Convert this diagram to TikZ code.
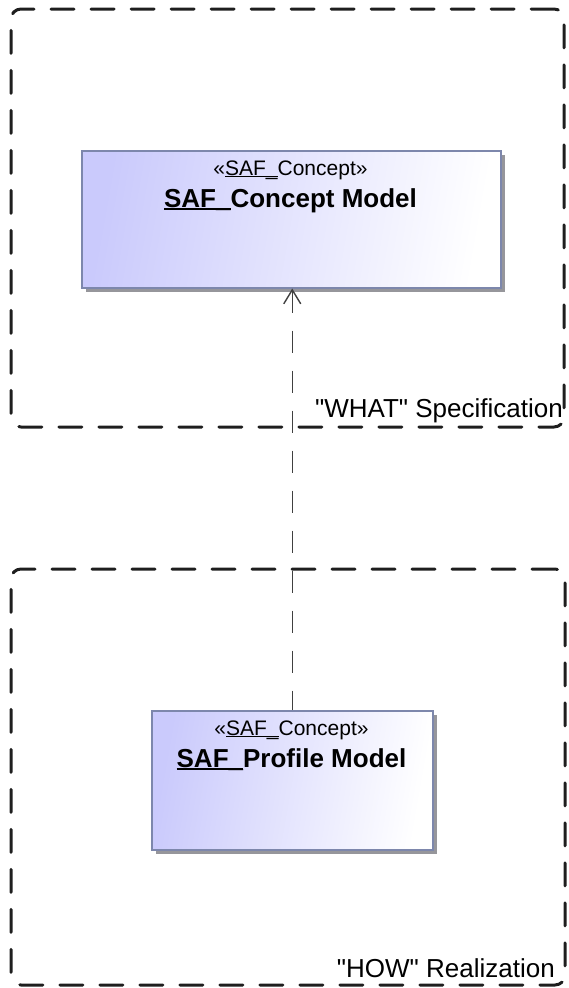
\documentclass[tikz,border=0pt]{standalone}
\usepackage{fontspec}
\setmainfont{Liberation Sans}
\usetikzlibrary{arrows.meta,shadows}

\definecolor{blockfill}{RGB}{202,202,252}
\definecolor{blockline}{RGB}{125,135,172}
\definecolor{blockshadow}{RGB}{150,150,155}
\definecolor{framecol}{RGB}{30,30,30}

% underline a piece of text with a thin rule just below the baseline
\newcommand\safuline[1]{\setbox0=\hbox{#1}\rlap{\rule[-0.1em]{\wd0}{0.055em}}\box0}

\begin{document}
\begin{tikzpicture}[x=1pt,y=-1pt,
  frame/.style={draw=framecol, line width=3pt, rounded corners=10pt,
    dash pattern=on 23pt off 17pt, line cap=round, inner sep=0pt},
  block/.style={draw=blockline, line width=1.5pt, left color=blockfill,
    right color=white, shading angle=80, inner sep=0pt,
    drop shadow={shadow xshift=4pt, shadow yshift=-4pt, fill=blockshadow, opacity=1}},
  stereo/.style={font=\fontsize{21}{24}\selectfont, anchor=base, inner sep=0pt},
  title/.style={font=\fontsize{26}{30}\selectfont\bfseries, anchor=base, inner sep=0pt},
  framelabel/.style={font=\fontsize{26}{30}\selectfont, anchor=base east, inner sep=0pt},
  dep/.style={draw=black!75, line width=1.2pt, dash pattern=on 22pt off 18pt,
    {Straight Barb[length=14pt,width=17pt,line width=1.4pt]}-}]

\useasboundingbox (0,0) rectangle (568,988);

% packages
\node[frame, minimum width=553pt, minimum height=418pt] (what) at (287.5,218) {};
\node[frame, minimum width=554pt, minimum height=416pt] (how) at (288,777) {};
\node[framelabel] (whatlabel) at (563,417) {\textquotedbl WHAT\textquotedbl{} Specification};
\node[framelabel] (howlabel) at (555,977) {\textquotedbl HOW\textquotedbl{} Realization};

% classes
\node[block, minimum width=419pt, minimum height=137pt, anchor=north west] (concept) at (81,150) {};
\node[stereo] (conceptst) at (290.5,175) {«\safuline{SAF\_}Concept»};
\node[title] (conceptname) at (290.5,207) {\safuline{SAF\_}Concept Model};

\node[block, minimum width=281pt, minimum height=139pt, anchor=north west] (profile) at (151,710) {};
\node[stereo] (profilest) at (291.5,735) {«\safuline{SAF\_}Concept»};
\node[title] (profilename) at (291.5,767) {\safuline{SAF\_}Profile Model};

% dependency, drawn from the arrow tip so the dashes start solid there
\draw[dep] (profile.north |- concept.south) -- (profile.north);
\end{tikzpicture}
\end{document}
